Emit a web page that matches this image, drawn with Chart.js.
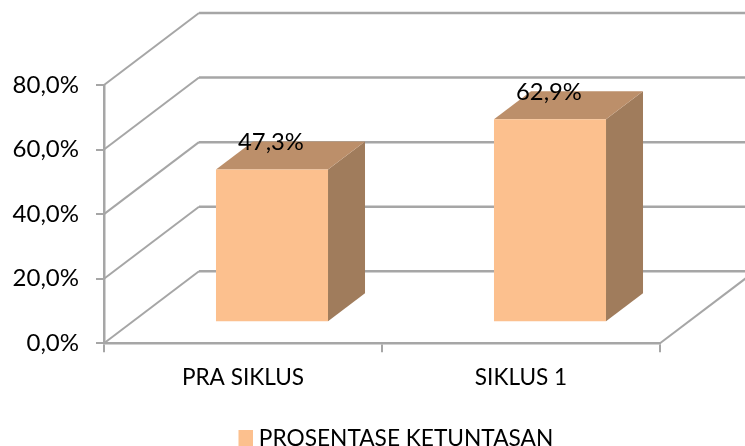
<!DOCTYPE html>
<html>
<head>
<meta charset="utf-8">
<style>html,body{margin:0;padding:0;background:#fff}canvas{display:block}</style>
<script src="https://cdn.jsdelivr.net/npm/chart.js@4"></script>
</head>
<body>
<canvas id="c" width="745" height="446"></canvas>
<script>
const categories = ["PRA SIKLUS", "SIKLUS 1"];
const seriesName = "PROSENTASE KETUNTASAN";
const seriesValues = [47.3, 62.9];
const yTicks = [0, 20, 40, 60, 80];

const FONT = "Lato, 'Open Sans', sans-serif";
const WALL = {dx: 95, dy: 72};
const BAR_SHIFT = {dx: 29, dy: 21};
const BAR_DEPTH = {dx: 37, dy: 28};
const FRONT = "#FCC08E", TOP = "#BC8F6A", SIDE = "#A07C5C", GRID = "#A6A6A6";
const fmt = v => v.toFixed(1).replace(".", ",") + "%";

const swatch = document.createElement("canvas");
swatch.width = 16;
swatch.height = 16;
const sctx = swatch.getContext("2d");
sctx.fillStyle = FRONT;
sctx.fillRect(0, 0, 16, 16);

const wallPlugin = {
  id: "wall3d",
  afterLayout(chart) {
    const lg = chart.legend, w = lg.right - lg.left, h = lg.bottom - lg.top;
    lg.left = 238.5;
    lg.right = lg.left + w;
    lg.top = 423;
    lg.bottom = lg.top + h;
  },
  beforeDatasetsDraw(chart) {
    const {ctx, chartArea: a, scales: {y}} = chart;
    ctx.save();
    ctx.strokeStyle = GRID;
    yTicks.forEach(v => {
      const py = y.getPixelForValue(v);
      ctx.lineWidth = 2;
      ctx.beginPath();
      ctx.moveTo(a.left, py);
      ctx.lineTo(a.left + WALL.dx, py - WALL.dy);
      ctx.stroke();
      ctx.lineWidth = 2.5;
      ctx.beginPath();
      ctx.moveTo(a.left + WALL.dx, py - WALL.dy);
      ctx.lineTo(a.right + WALL.dx, py - WALL.dy);
      ctx.stroke();
    });
    const p0 = y.getPixelForValue(0);
    ctx.lineWidth = 2;
    ctx.beginPath();
    ctx.moveTo(a.right, p0);
    ctx.lineTo(a.right + WALL.dx, p0 - WALL.dy);
    ctx.stroke();
    chart.getDatasetMeta(0).data.forEach(bar => {
      const p = bar.getProps(["x", "y", "base", "width"], true);
      const r = p.x + p.width / 2 + BAR_SHIFT.dx, l = r - p.width;
      const t = p.y - BAR_SHIFT.dy, b = p.base - BAR_SHIFT.dy;
      ctx.fillStyle = SIDE;
      ctx.beginPath();
      ctx.moveTo(r, t);
      ctx.lineTo(r + BAR_DEPTH.dx, t - BAR_DEPTH.dy);
      ctx.lineTo(r + BAR_DEPTH.dx, b - BAR_DEPTH.dy);
      ctx.lineTo(r, b);
      ctx.closePath();
      ctx.fill();
      ctx.fillStyle = TOP;
      ctx.beginPath();
      ctx.moveTo(l, t);
      ctx.lineTo(l + BAR_DEPTH.dx, t - BAR_DEPTH.dy);
      ctx.lineTo(r + BAR_DEPTH.dx, t - BAR_DEPTH.dy);
      ctx.lineTo(r, t);
      ctx.closePath();
      ctx.fill();
    });
    ctx.restore();
  },
  beforeDatasetDraw(chart) {
    chart.ctx.save();
    chart.ctx.translate(BAR_SHIFT.dx, -BAR_SHIFT.dy);
  },
  afterDatasetDraw(chart) {
    chart.ctx.restore();
  },
  afterDatasetsDraw(chart) {
    const {ctx} = chart;
    ctx.save();
    ctx.fillStyle = "#000";
    ctx.font = "23.8px " + FONT;
    ctx.textAlign = "center";
    ctx.textBaseline = "middle";
    chart.getDatasetMeta(0).data.forEach((bar, i) => {
      ctx.fillText(fmt(seriesValues[i]), bar.x + BAR_SHIFT.dx - 1, bar.y - BAR_SHIFT.dy - 27);
    });
    ctx.restore();
  }
};

new Chart(document.getElementById("c"), {
  type: "bar",
  data: {
    labels: categories,
    datasets: [{
      label: seriesName,
      data: seriesValues,
      backgroundColor: FRONT,
      borderWidth: 0,
      barPercentage: 0.403,
      categoryPercentage: 1,
      clip: false
    }]
  },
  options: {
    responsive: false,
    animation: false,
    layout: {padding: {top: 85, right: 85, left: 0, bottom: 0}},
    plugins: {
      tooltip: {enabled: false},
      legend: {
        position: "bottom",
        align: "start",
        labels: {
          color: "#000",
          font: {family: FONT, size: 22.7},
          usePointStyle: true,
          pointStyle: swatch,
          pointStyleWidth: 5,
          padding: 4
        }
      }
    },
    scales: {
      x: {
        grid: {drawOnChartArea: false, color: GRID, lineWidth: 2, tickLength: 9, offset: true},
        border: {color: GRID, width: 2.5},
        ticks: {color: "#000", font: {family: FONT, size: 22.6}, padding: 12, maxRotation: 0},
        afterFit(s) { s.height = 66; }
      },
      y: {
        min: 0,
        max: 80,
        afterBuildTicks(s) { s.ticks = yTicks.map(value => ({value})); },
        grid: {drawOnChartArea: false, color: GRID, lineWidth: 2, tickLength: 8},
        border: {color: GRID, width: 2.5},
        ticks: {color: "#000", font: {family: FONT, size: 24}, padding: 17, callback: v => fmt(v)},
        afterFit(s) { s.width = 104; }
      }
    }
  },
  plugins: [wallPlugin]
});
</script>
</body>
</html>
